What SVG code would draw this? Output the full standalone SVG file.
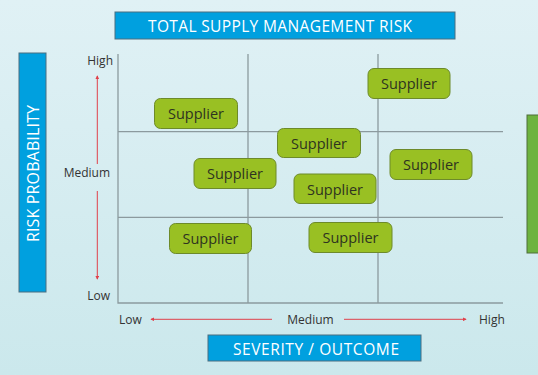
<svg xmlns="http://www.w3.org/2000/svg" width="538" height="375" viewBox="0 0 538 375">
<defs>
<linearGradient id="bg" x1="0" y1="0" x2="0" y2="1">
<stop offset="0" stop-color="#e0f1f5"/>
<stop offset="1" stop-color="#cbe8ec"/>
</linearGradient>
<marker id="ah" viewBox="0 0 6 6" refX="5" refY="3" markerWidth="4" markerHeight="4" orient="auto-start-reverse">
<path d="M0,0 L6,3 L0,6 z" fill="#e0404a"/>
</marker>
<style>
.blue{fill:#00a0df;stroke:#4a6e80;stroke-width:1}
.btxt{font-family:"Open Sans","Noto Sans",sans-serif;fill:#ffffff}
.sup rect{fill:#99c023;stroke:#6d8a2a;stroke-width:1}
.sup text{font-family:"Open Sans","Noto Sans",sans-serif;font-size:14.5px;fill:#2e3320;text-anchor:middle}
.grid{stroke:#8c9a9e;stroke-width:1.3;fill:none}
.lbl{font-family:"Open Sans","Noto Sans",sans-serif;font-size:12px;fill:#333333}
.red{stroke:#e0404a;stroke-width:1;fill:none}
</style>
</defs>
<rect width="538" height="375" fill="url(#bg)"/>

<g id="title">
<rect class="blue" x="115" y="12" width="340" height="27"/>
<text class="btxt" x="280" y="32" font-size="15.5" text-anchor="middle" textLength="264">TOTAL SUPPLY MANAGEMENT RISK</text>
</g>
<g id="yaxis-title">
<rect class="blue" x="19" y="53" width="27" height="239"/>
<text class="btxt" transform="translate(38.5,173.5) rotate(-90)" font-size="16" text-anchor="middle" textLength="137">RISK PROBABILITY</text>
</g>
<g id="xaxis-title">
<rect class="blue" x="208" y="335" width="213" height="26"/>
<text class="btxt" x="316" y="355" font-size="15.5" text-anchor="middle" textLength="166">SEVERITY / OUTCOME</text>
</g>
<g id="right-box">
<rect x="527" y="115" width="14" height="138" fill="#6db33f" stroke="#4e6e3a" stroke-width="1"/>
</g>

<g id="grid">
<path class="grid" d="M118,54 V303 H503"/>
<path class="grid" d="M248,54 V303 M378,54 V303"/>
<path class="grid" d="M118,131.7 H503 M118,217.3 H503"/>
</g>

<g id="axis-labels">
<text class="lbl" x="113" y="65" text-anchor="end">High</text>
<text class="lbl" x="110" y="177" text-anchor="end">Medium</text>
<text class="lbl" x="110" y="300" text-anchor="end">Low</text>
<text class="lbl" x="119" y="324">Low</text>
<text class="lbl" x="310.5" y="324" text-anchor="middle">Medium</text>
<text class="lbl" x="479" y="324">High</text>
</g>

<g id="connectors">
<line class="red" x1="97.3" y1="164" x2="97.3" y2="76" marker-end="url(#ah)"/>
<line class="red" x1="97.3" y1="191" x2="97.3" y2="279" marker-end="url(#ah)"/>
<line class="red" x1="272" y1="319.3" x2="151" y2="319.3" marker-end="url(#ah)"/>
<line class="red" x1="344" y1="319.3" x2="466" y2="319.3" marker-end="url(#ah)"/>
</g>

<g id="s1" class="sup"><rect x="368" y="68.5" width="82" height="30" rx="6"/><text x="409" y="89">Supplier</text></g>
<g id="s2" class="sup"><rect x="154.5" y="98.5" width="83" height="30" rx="6"/><text x="196" y="119">Supplier</text></g>
<g id="s3" class="sup"><rect x="277.5" y="128.5" width="83" height="29" rx="6"/><text x="319" y="148.5">Supplier</text></g>
<g id="s4" class="sup"><rect x="194" y="158.5" width="82" height="30" rx="6"/><text x="235" y="179">Supplier</text></g>
<g id="s5" class="sup"><rect x="390" y="149.5" width="82" height="30" rx="6"/><text x="431" y="170">Supplier</text></g>
<g id="s6" class="sup"><rect x="294" y="174" width="82" height="29.5" rx="6"/><text x="335" y="194.5">Supplier</text></g>
<g id="s7" class="sup"><rect x="169.5" y="223.5" width="82" height="30" rx="6"/><text x="210.5" y="244">Supplier</text></g>
<g id="s8" class="sup"><rect x="309" y="222.5" width="83" height="30" rx="6"/><text x="350.5" y="243">Supplier</text></g>
</svg>
